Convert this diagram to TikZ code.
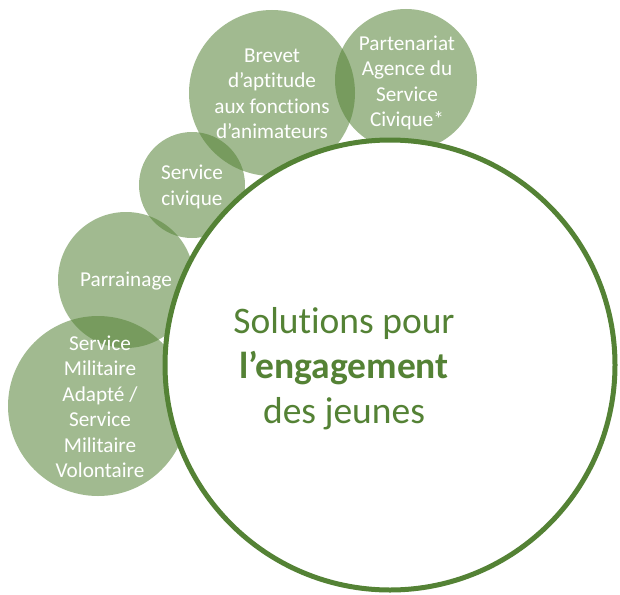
\documentclass[tikz,border=0pt]{standalone}
\usepackage{fontspec}
\setmainfont{Carlito}[Ligatures=NoCommon]
\definecolor{leaf}{RGB}{84,130,53}
\tikzset{
    bubble/.style={circle, fill=leaf, fill opacity=0.55, inner sep=0pt},
    bubbletext/.style={text=white, align=center, inner sep=0pt, font=\fontsize{21.2}{25.5}\selectfont},
}
\begin{document}
\begin{tikzpicture}[x=1pt,y=-1pt]
    \useasboundingbox (0,0) rectangle (620,594);
    % small circles
    \node[bubble, minimum size=166pt] (brevet) at (272,93) {};
    \node[bubble, minimum size=142pt] (agence) at (406,80) {};
    \node[bubble, minimum size=106pt] (civique) at (192,185) {};
    \node[bubble, minimum size=136pt] (parrain) at (126,280) {};
    \node[bubble, minimum size=180pt] (militaire) at (98,406) {};

    \node[bubbletext] (brevetlbl) at (272,94) {Brevet\\d’aptitude\\aux fonctions\\d’animateurs};
    \node[bubbletext] (agencelbl) at (407,83) {Partenariat\\Agence du\\Service\\Civique*};
    \node[bubbletext] (civiquelbl) at (192,187) {Service\\civique};
    \node[bubbletext] (parrainlbl) at (126,281) {Parrainage};
    \node[bubbletext] (militairelbl) at (100,407) {Service\\Militaire\\Adapté /\\Service\\Militaire\\Volontaire};

    % main circle
    \node[circle, draw=leaf, line width=5pt, fill=white, minimum size=450pt, inner sep=0pt] (core) at (390,365) {};
    \node[text=leaf, align=center, font=\fontsize{37.5}{45}\selectfont] (title) at (344,369) {Solutions pour\\\textbf{l’engagement}\\des jeunes};
\end{tikzpicture}
\end{document}
